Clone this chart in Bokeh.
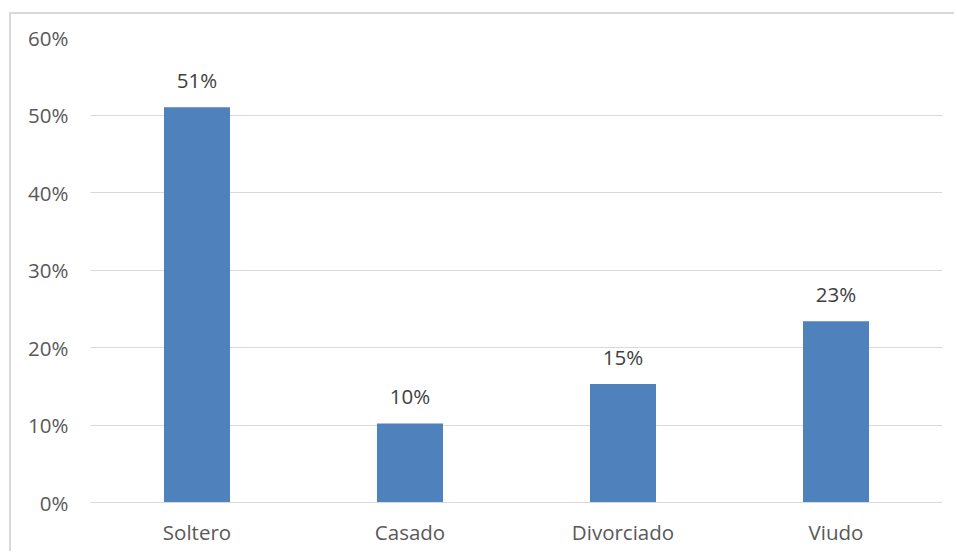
from bokeh.plotting import figure
from bokeh.models import ColumnDataSource, NumeralTickFormatter, FixedTicker, Range1d, FactorRange
from bokeh.core.properties import value
from bokeh.embed import file_html
from bokeh.resources import INLINE

categories = ["Soltero", "Casado", "Divorciado", "Viudo"]
values = [0.51, 0.102, 0.153, 0.234]
labels = ["51%", "10%", "15%", "23%"]
y_ticks = [0.0, 0.1, 0.2, 0.3, 0.4, 0.5, 0.6]

FONT = "Open Sans"
TXT = "#595959"
GRID = "#d9d9d9"

src = ColumnDataSource(dict(cat=categories, val=values, lab=labels))

p = figure(width=945, height=539, output_backend="svg", toolbar_location=None,
           x_range=FactorRange(*categories, range_padding=0), y_range=Range1d(0, 0.6),
           min_border_left=79, min_border_right=14, min_border_top=23, min_border_bottom=51)
p.styles = {"border-left": "2px solid #d9d9d9", "border-top": "2px solid #d9d9d9",
            "margin-top": "12px", "margin-left": "9px"}
p.outline_line_color = None
p.background_fill_color = "white"
p.border_fill_color = "white"

p.vbar(x="cat", top="val", width=0.31, source=src, fill_color="#4f81bd", line_color=None)
p.text(x="cat", y="val", text="lab", source=src, text_align="center", text_baseline="bottom",
       y_offset=-13, text_font=value(FONT), text_font_size="20.5px", text_color="#404040")

p.yaxis.ticker = FixedTicker(ticks=y_ticks)
p.yaxis.formatter = NumeralTickFormatter(format="0%")
p.yaxis.axis_line_color = None
p.yaxis.major_tick_line_color = None
p.yaxis.minor_tick_line_color = None
p.yaxis.major_label_standoff = 16
p.xaxis.axis_line_color = GRID
p.xaxis.axis_line_width = 1
p.xaxis.major_tick_line_color = None
p.xaxis.minor_tick_line_color = None
p.xaxis.major_label_standoff = 9
for ax in (p.xaxis, p.yaxis):
    ax.major_label_text_font = FONT
    ax.major_label_text_font_size = "20.5px"
    ax.major_label_text_color = TXT
p.xgrid.grid_line_color = None
p.ygrid.grid_line_color = GRID
p.ygrid.grid_line_width = 1

open("out.html", "w").write(file_html(p, INLINE))
